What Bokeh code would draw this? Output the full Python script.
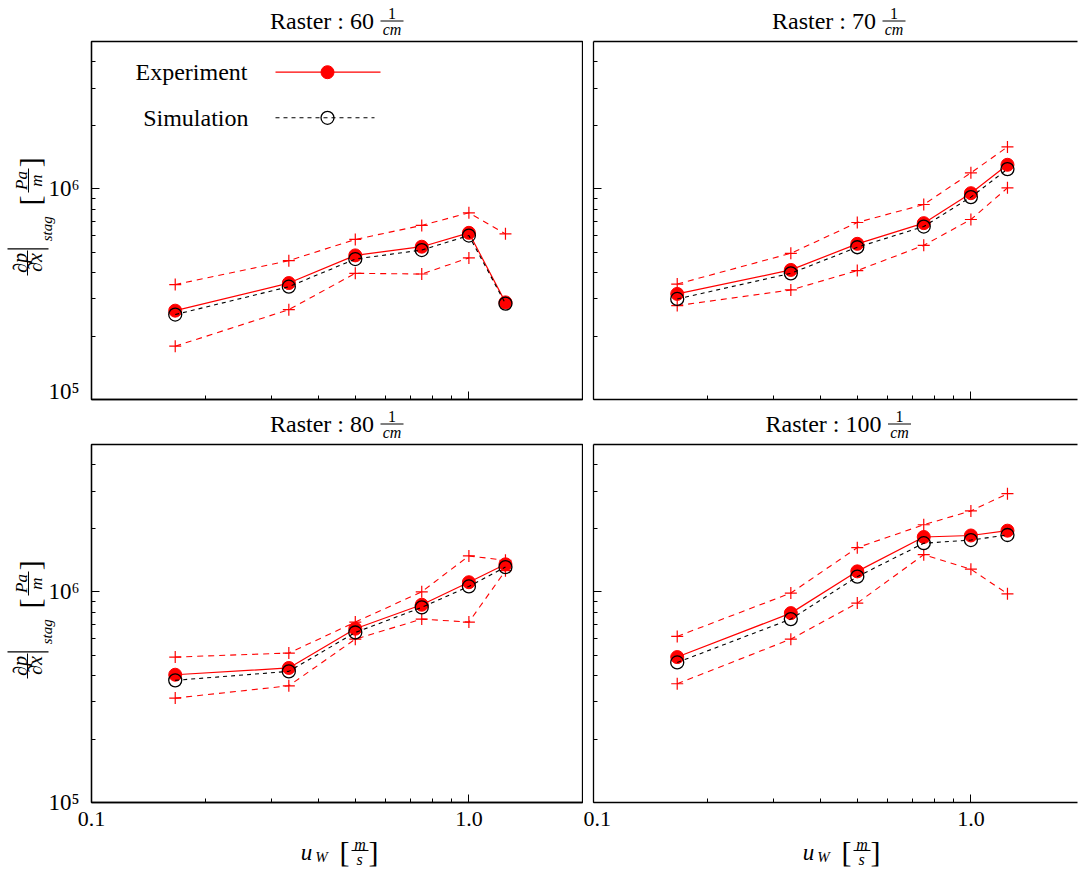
import numpy as np
from math import pi
from bokeh.plotting import figure
from bokeh.layouts import column, row
from bokeh.models import Range1d, LinearScale, FixedTicker, LogAxis, CustomJSTickFormatter
from bokeh.core.properties import value
from bokeh.embed import file_html
from bokeh.resources import INLINE

# wall velocity u_W [m/s]
u_w = np.array([1 / 6, 1 / 3, 0.5, 0.75, 1.0, 1.25])

# stagnation pressure gradient dp/dx [Pa/m], one set per raster density
exp_60 = np.array([2.64e5, 3.57e5, 4.83e5, 5.31e5, 6.18e5, 2.89e5])
sim_60 = np.array([2.53e5, 3.43e5, 4.64e5, 5.12e5, 6.00e5, 2.85e5])
upper_60 = np.array([3.51e5, 4.56e5, 5.75e5, 6.70e5, 7.69e5, 6.11e5])
lower_60 = np.array([1.79e5, 2.67e5, 3.97e5, 3.94e5, 4.70e5, np.nan])

exp_70 = np.array([3.17e5, 4.12e5, 5.48e5, 6.87e5, 9.53e5, 1.30e6])
sim_70 = np.array([3.00e5, 3.97e5, 5.28e5, 6.62e5, 9.13e5, 1.24e6])
upper_70 = np.array([3.53e5, 4.94e5, 6.92e5, 8.42e5, 1.19e6, 1.58e6])
lower_70 = np.array([2.79e5, 3.31e5, 4.09e5, 5.39e5, 7.15e5, 1.01e6])

exp_80 = np.array([4.04e5, 4.35e5, 6.68e5, 8.68e5, 1.11e6, 1.35e6])
sim_80 = np.array([3.80e5, 4.19e5, 6.41e5, 8.43e5, 1.06e6, 1.31e6])
upper_80 = np.array([4.90e5, 5.12e5, 7.18e5, 1.00e6, 1.48e6, 1.41e6])
lower_80 = np.array([3.13e5, 3.58e5, 5.96e5, 7.42e5, 7.18e5, 1.26e6])

exp_100 = np.array([4.90e5, 7.92e5, 1.25e6, 1.82e6, 1.85e6, 1.95e6])
sim_100 = np.array([4.62e5, 7.42e5, 1.18e6, 1.70e6, 1.76e6, 1.86e6])
upper_100 = np.array([6.14e5, 9.86e5, 1.62e6, 2.08e6, 2.42e6, 2.92e6])
lower_100 = np.array([3.66e5, 5.96e5, 8.84e5, 1.50e6, 1.28e6, 9.78e5])

rasters = [60, 70, 80, 100]

# axis ticks
x_ticks = [0.1, 1.0]
x_minor = [0.2, 0.3, 0.4, 0.5, 0.6, 0.7, 0.8, 0.9]
x_tick_text = ["0.1", "1.0"]
y_ticks = [1e5, 1e6]
y_minor = [2e5, 3e5, 4e5, 5e5, 6e5, 7e5, 8e5, 9e5, 2e6, 3e6, 4e6]
y_tick_text = ["10\u2075", "10\u2076"]

SERIF = "Liberation Serif"
FH = 358          # frame height
FW_FULL = 491     # frame width of a full panel


def px_text(p, x, y, txt, size, italic=False, angle=0.0, align="center"):
    p.text(x=[x], y=[y], text=[txt], x_range_name="px", y_range_name="px",
           text_font=value(SERIF), text_font_size=f"{size}px",
           text_font_style="italic" if italic else "normal",
           angle=angle, text_align=align, text_baseline="middle",
           text_color="black", level="overlay")


def px_rule(p, x0, y0, x1, y1, width=1.0):
    p.segment(x0=[x0], y0=[y0], x1=[x1], y1=[y1], x_range_name="px", y_range_name="px",
              line_color="black", line_width=width, level="overlay")


def label_formatter(ticks, texts):
    pairs = ", ".join(f"[{t!r}, {s!r}]" for t, s in zip(ticks, texts))
    return CustomJSTickFormatter(code=f"""
        const table = [{pairs}];
        for (const [t, s] of table) {{
            if (Math.abs(Math.log10(tick) - Math.log10(t)) < 1e-6) return s;
        }}
        return "";
    """)


def blank_formatter():
    return CustomJSTickFormatter(code="return '';")


def style_axis(ax, ticks, minor, texts, show_labels, standoff, size):
    ax.ticker = FixedTicker(ticks=ticks, minor_ticks=minor)
    ax.major_tick_in = 8
    ax.major_tick_out = 0
    ax.minor_tick_in = 4
    ax.minor_tick_out = 0
    ax.axis_line_color = "black"
    ax.axis_line_width = 1.3
    ax.major_tick_line_color = "black"
    ax.minor_tick_line_color = "black"
    ax.major_tick_line_width = 1
    ax.minor_tick_line_width = 1
    ax.major_label_text_font = SERIF
    ax.major_label_text_color = "black"
    if show_labels:
        ax.formatter = label_formatter(ticks, texts)
        ax.major_label_text_font_size = f"{size}px"
        ax.major_label_standoff = standoff
    else:
        ax.formatter = blank_formatter()
        ax.major_label_text_font_size = "1px"
        ax.major_label_standoff = 0


def add_title(p, raster):
    nd = len(str(raster))
    tx = 282.5 + (nd - 2) * 5.5
    fx = tx + 18
    px_text(p, tx, FH + 21, f"Raster : {raster}", 24, align="right")
    px_text(p, fx, FH + 28.5, "1", 16)
    px_text(p, fx, FH + 12.5, "cm", 16, italic=True)
    px_rule(p, fx - 11.5, FH + 20.5, fx + 11.5, FH + 20.5)


def add_ylabel(p):
    a = pi / 2
    cy = FH / 2
    px_text(p, -72, cy - 42.5, "\u2202p", 20, italic=True, angle=a)
    px_text(p, -57, cy - 42, "\u2202x", 20, italic=True, angle=a)
    px_rule(p, -64, cy - 55, -64, cy - 30)
    px_rule(p, -84, cy - 28.3, -43, cy - 28.3, width=1.2)
    px_text(p, -45, cy - 8.3, "stag", 15, italic=True, angle=a)
    px_text(p, -62.5, cy + 20, "[", 30, angle=a)
    px_text(p, -70, cy + 40, "Pa", 17, italic=True, angle=a)
    px_text(p, -55, cy + 40, "m", 17, italic=True, angle=a)
    px_rule(p, -63, cy + 28, -63, cy + 52)
    px_text(p, -62.5, cy + 58.3, "]", 30, angle=a)


def add_xlabel(p):
    px_text(p, 215, -50.3, "u", 23, italic=True)
    px_text(p, 230, -54.3, "W", 15, italic=True)
    px_text(p, 253, -48.8, "[", 30)
    px_text(p, 268.5, -41.5, "m", 16, italic=True)
    px_rule(p, 260, -48, 277, -48)
    px_text(p, 268, -56.5, "s", 16, italic=True)
    px_text(p, 282, -48.8, "]", 30)


def add_legend(p):
    px_text(p, 156, 327.3, "Experiment", 24, align="right")
    px_text(p, 157, 281.7, "Simulation", 24, align="right")
    p.line(x=[184, 289], y=[327.3, 327.3], x_range_name="px", y_range_name="px",
           line_color="red", line_width=1.2)
    p.scatter(x=[236], y=[327.3], x_range_name="px", y_range_name="px", marker="circle",
              size=13, fill_color="red", line_color="red")
    p.line(x=[184, 283], y=[281.7, 281.7], x_range_name="px", y_range_name="px",
           line_color="black", line_width=1.1, line_dash="4 4")
    p.scatter(x=[236], y=[281.7], x_range_name="px", y_range_name="px", marker="circle",
              size=13, fill_color=None, line_color="black", line_width=1.3)


def make_panel(raster, exp, sim, upper, lower, col, rw):
    left = col == 0
    bottom = rw == 1
    fw = FW_FULL if left else 484
    xmax = 2.0 if left else 0.1 * 20 ** (fw / FW_FULL)
    p = figure(width=583 if left else 495, height=467 if bottom else 403,
               x_axis_type="log", y_axis_type="log",
               x_range=Range1d(0.1, xmax), y_range=Range1d(1e5, 5e6),
               extra_x_ranges={"px": Range1d(0, fw)}, extra_y_ranges={"px": Range1d(0, FH)},
               extra_x_scales={"px": LinearScale()}, extra_y_scales={"px": LinearScale()},
               output_backend="svg", toolbar_location=None,
               min_border_left=91 if left else 10, min_border_right=1,
               min_border_top=41, min_border_bottom=68 if bottom else 4)
    p.grid.visible = False
    p.background_fill_color = "white"
    p.border_fill_color = "white"

    style_axis(p.below[0], x_ticks, x_minor, x_tick_text, bottom, 9, 22)
    style_axis(p.left[0], y_ticks, y_minor, y_tick_text, left, 12, 23)

    if left:
        p.outline_line_color = "black"
        p.outline_line_width = 1.3
    else:
        # the panel runs past the page edge, so only the top edge is closed
        p.outline_line_color = None
        top = LogAxis(ticker=FixedTicker(ticks=[]), formatter=blank_formatter(),
                      major_tick_line_color=None, minor_tick_line_color=None,
                      major_label_text_font_size="1px", major_label_standoff=0,
                      axis_line_color="black", axis_line_width=1.3)
        p.add_layout(top, "above")

    # error band bounds
    for band in (upper, lower):
        p.line(u_w, band, line_color="red", line_width=1.1, line_dash="6 5")
        p.scatter(u_w, band, marker="cross", size=12, line_color="red", line_width=1.2)
    # measurement
    p.line(u_w, exp, line_color="red", line_width=1.2)
    p.scatter(u_w, exp, marker="circle", size=13, fill_color="red", line_color="red")
    # simulation
    p.line(u_w, sim, line_color="black", line_width=1.1, line_dash="4 4")
    p.scatter(u_w, sim, marker="circle", size=13, fill_color=None, line_color="black",
              line_width=1.3)

    add_title(p, raster)
    if left:
        add_ylabel(p)
    if bottom:
        add_xlabel(p)
    if left and not bottom:
        add_legend(p)
    return p


series = {
    60: (exp_60, sim_60, upper_60, lower_60),
    70: (exp_70, sim_70, upper_70, lower_70),
    80: (exp_80, sim_80, upper_80, lower_80),
    100: (exp_100, sim_100, upper_100, lower_100),
}

panels = []
for i, r in enumerate(rasters):
    e, s, up, lo = series[r]
    panels.append(make_panel(r, e, s, up, lo, i % 2, i // 2))

layout = column(row(panels[0], panels[1]), row(panels[2], panels[3]))
open("out.html", "w").write(file_html(layout, INLINE))
